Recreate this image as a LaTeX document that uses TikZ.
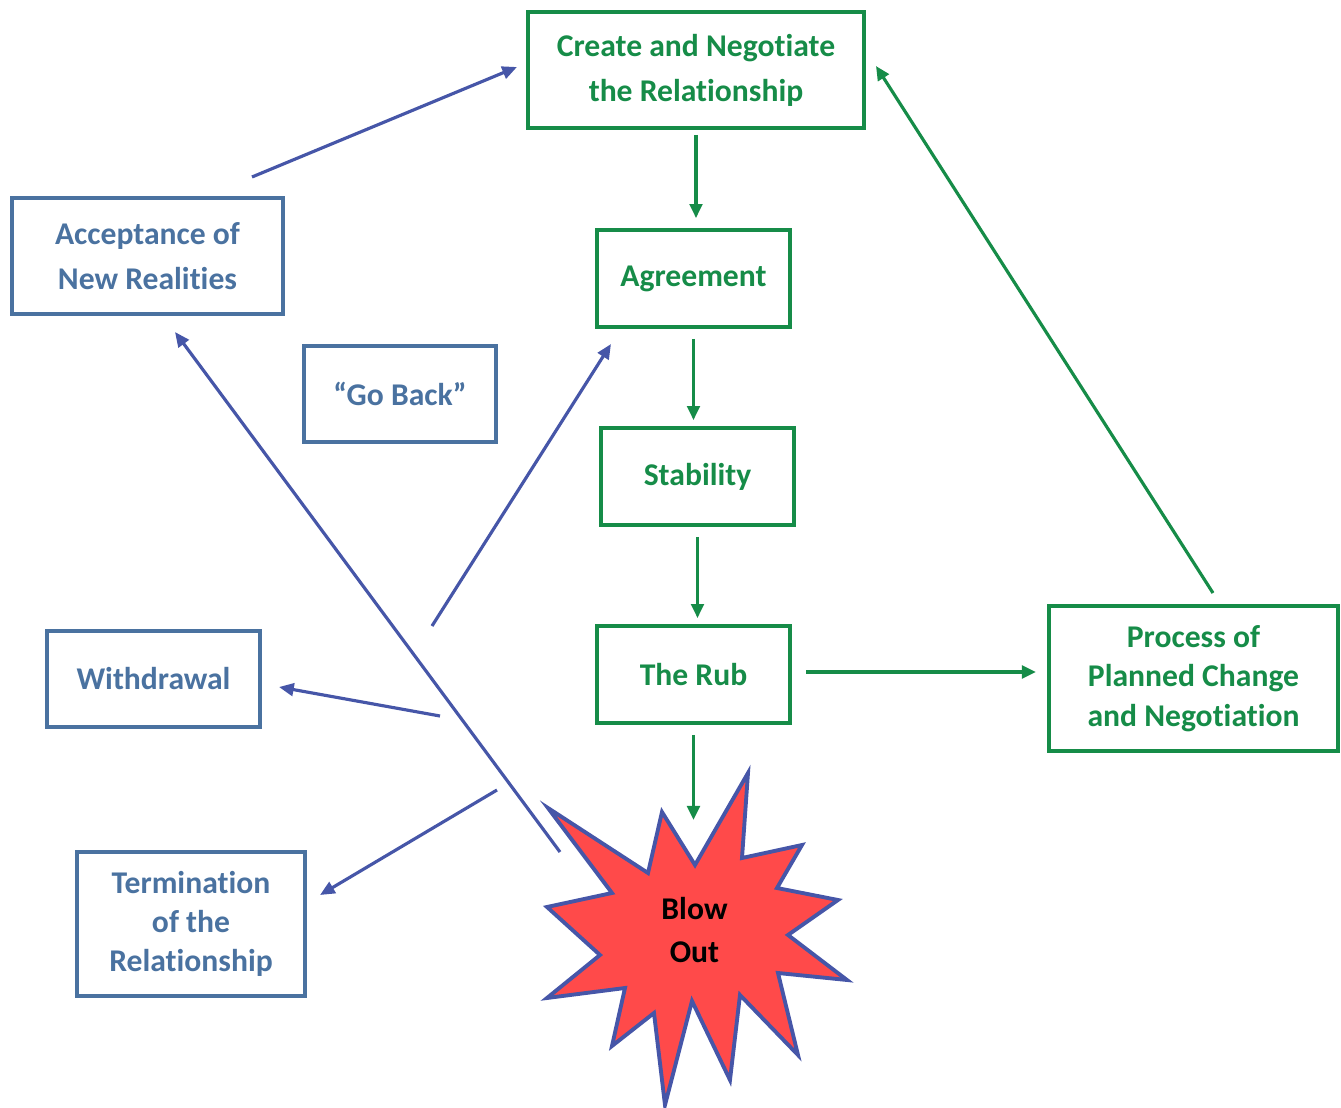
\documentclass[tikz,border=0pt]{standalone}
\usepackage{fontspec}
\setmainfont{Carlito}[Ligatures=NoCommon]
\usetikzlibrary{arrows.meta}
\definecolor{gr}{RGB}{22,140,72}
\definecolor{bl}{RGB}{74,114,160}
\definecolor{ar}{RGB}{70,86,168}
\definecolor{burst}{RGB}{255,74,74}
\begin{document}
\begin{tikzpicture}[x=1cm,y=-1cm,
  gbox/.style={draw=gr, line width=1.1pt, text=gr, font=\fontsize{9}{12.8}\selectfont\bfseries, align=center, inner sep=0pt},
  bbox/.style={draw=bl, line width=1.1pt, text=bl, font=\fontsize{9}{12.8}\selectfont\bfseries, align=center, inner sep=0pt},
  tight/.style={font=\fontsize{9}{11.2}\selectfont\bfseries},
  garrow/.style={draw=gr, line width=0.9pt, -{Triangle[length=4pt,width=3.6pt]}},
  barrow/.style={draw=ar, line width=0.9pt, -{Triangle[length=4.2pt,width=3.6pt]}}]
\useasboundingbox (0,0) rectangle (13.41,11.08);

% green boxes
\node[gbox, minimum width=3.36cm, minimum height=1.16cm] (create) at (6.96,0.70) {Create and Negotiate\\the Relationship};
\node[gbox, minimum width=1.93cm, minimum height=0.97cm] (agree) at (6.935,2.785) {Agreement};
\node[gbox, minimum width=1.93cm, minimum height=0.97cm] (stab) at (6.975,4.765) {Stability};
\node[gbox, minimum width=1.93cm, minimum height=0.97cm] (rub) at (6.935,6.745) {The Rub};
\node[gbox, tight, minimum width=2.89cm, minimum height=1.45cm] (proc) at (11.935,6.785) {Process of\\Planned Change\\and Negotiation};

% blue boxes
\node[bbox, minimum width=2.71cm, minimum height=1.16cm] (accept) at (1.475,2.56) {Acceptance of\\New Realities};
\node[bbox, minimum width=1.92cm, minimum height=0.96cm] (goback) at (4.00,3.94) {“Go Back”};
\node[bbox, minimum width=2.13cm, minimum height=0.96cm] (withd) at (1.535,6.79) {Withdrawal};
\node[bbox, tight, minimum width=2.28cm, minimum height=1.44cm] (term) at (1.91,9.24) {Termination\\of the\\Relationship};

% starburst
\draw[draw=ar, fill=burst, line width=1.1pt, line join=miter]
  (7.48,7.73) -- (7.42,8.58) -- (8.02,8.45) -- (7.77,8.88) -- (8.38,9.00) -- (7.88,9.35)
  -- (8.47,9.80) -- (7.78,9.73) -- (7.98,10.55) -- (7.40,9.95) -- (7.30,10.80) -- (6.92,10.01)
  -- (6.65,11.05) -- (6.54,10.13) -- (6.12,10.46) -- (6.25,9.88) -- (5.47,9.98) -- (6.00,9.55)
  -- (5.47,9.07) -- (6.12,8.93) -- (5.48,8.08) -- (6.48,8.73) -- (6.62,8.12) -- (6.95,8.65) -- cycle;
\node[font=\fontsize{9}{12.3}\selectfont\bfseries, align=center, text=black] (blow) at (6.945,9.30) {Blow\\Out};

% free-end coordinates
\coordinate (aS) at (2.52,1.77);
\coordinate (aE) at (5.17,0.67);
\coordinate (bS) at (5.60,8.52);
\coordinate (bE) at (1.75,3.32);
\coordinate (gS) at (4.32,6.26);
\coordinate (gE) at (6.11,3.44);
\coordinate (wS) at (4.40,7.16);
\coordinate (wE) at (2.79,6.87);
\coordinate (tS) at (4.97,7.90);
\coordinate (tE) at (3.20,8.95);
\coordinate (pS) at (12.13,5.93);
\coordinate (pE) at (8.76,0.66);
\coordinate (rS) at (8.06,6.72);
\coordinate (rE) at (10.36,6.72);
\coordinate (bbE) at (6.95,8.20);

% green arrows
\draw[garrow, shorten <=0.05cm, shorten >=0.1cm] (create.south) -- (create.south |- agree.north);
\draw[garrow, shorten <=0.1cm, shorten >=0.06cm] (agree.south) -- (agree.south |- stab.north);
\draw[garrow, shorten <=0.1cm, shorten >=0.06cm] (stab.south) -- (stab.south |- rub.north);
\draw[garrow, shorten <=0.1cm] (rub.south) -- (rub.south |- bbE);
\draw[garrow] (rS) -- (rE);
\draw[garrow] (pS) -- (pE);

% blue arrows
\draw[barrow] (aS) -- (aE);
\draw[barrow] (bS) -- (bE);
\draw[barrow] (gS) -- (gE);
\draw[barrow] (wS) -- (wE);
\draw[barrow] (tS) -- (tE);
\end{tikzpicture}
\end{document}
